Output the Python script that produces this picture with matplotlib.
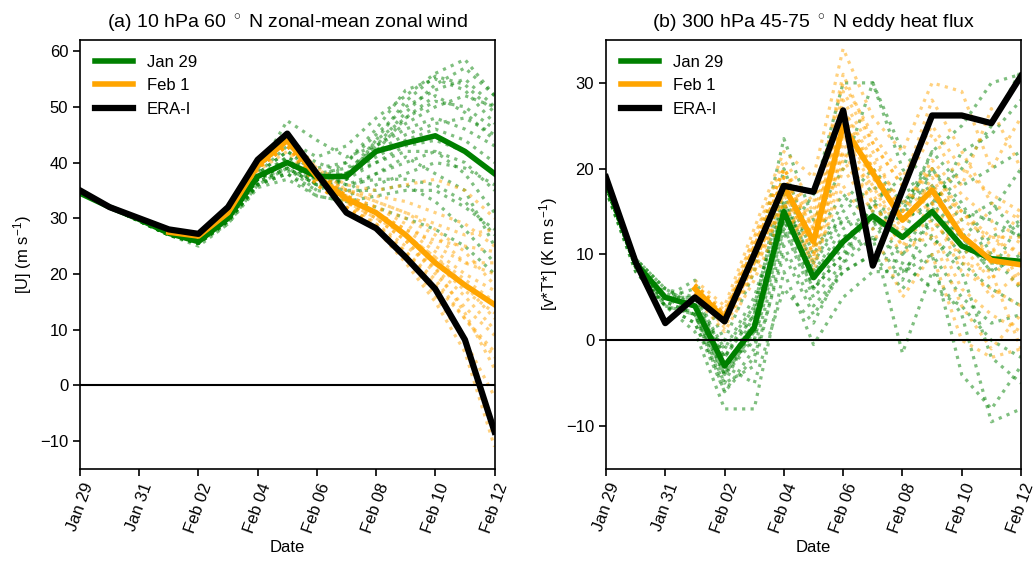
import datetime as dt
import matplotlib
matplotlib.use("Agg")
import matplotlib.pyplot as plt
import matplotlib.dates as mdates

plt.rcParams['font.family'] = ['Liberation Sans', 'DejaVu Sans']
plt.rcParams['mathtext.fontset'] = 'custom'
plt.rcParams['mathtext.rm'] = 'Liberation Sans'
plt.rcParams['mathtext.it'] = 'Liberation Sans:italic'

# daily dates, Jan 29 - Feb 12
dates = [dt.date(2018, 1, 29) + dt.timedelta(days=i) for i in range(15)]
dates_feb1 = dates[3:]

# ---- panel (a): 10 hPa 60N zonal-mean zonal wind ----
u_era = [35, 32, 30, 28, 27.2, 32, 40.5, 45.2, 38, 31, 28.2, 23, 17.3, 8.2, -8.3]
u_jan29_mean = [34.5, 32, 29.8, 27.3, 25.8, 30, 37.5, 40, 37.5, 37.5, 42, 43.5, 44.8, 42, 38]
u_feb1_mean = [27.5, 26.8, 31, 39.5, 44, 37.5, 33.5, 31, 27, 22, 18, 14.5]

u_jan29_members = [
    [34.5, 32, 30, 27.5, 26, 30, 37, 40, 37, 38, 42, 45, 47, 48, 45],
    [34.5, 32, 29.5, 27, 25.5, 29.5, 36, 38, 35, 34, 36, 38, 40, 39, 36],
    [34.5, 32, 30, 27.5, 26.5, 30.5, 38, 42, 39, 40, 45, 50, 53, 55, 50],
    [34.5, 32, 29.5, 27, 25.5, 29, 35.5, 37, 34, 33, 34, 35, 35, 32, 28],
    [34.5, 32, 30, 28, 26.5, 31, 39, 44, 41, 43, 48, 52, 56, 58.5, 52],
    [34.5, 32, 29.5, 27, 25, 29, 36, 39, 36, 37, 40, 43, 44, 42, 38],
    [34.5, 32, 30, 27.5, 26, 30, 37, 41, 38, 36, 38, 40, 42, 40, 35],
    [34.5, 32, 30, 27.5, 26, 30.5, 38.5, 47.5, 44, 41, 43, 47, 50, 52, 50],
    [34.5, 32, 29.5, 27, 25.5, 29.5, 36, 38, 34, 33, 32, 30, 28, 25, 20],
    [34.5, 32, 30, 27.5, 26, 30, 37, 40, 37, 40, 46, 53, 55, 53, 47],
    [34.5, 32, 30, 27.5, 26, 30, 37.5, 41, 38, 38, 41, 44, 46, 44, 40],
    [34.5, 32, 29.5, 27, 25.5, 29.5, 36.5, 39, 36, 35, 35, 36, 33, 28, 22],
    [34.5, 32, 30, 27.5, 26, 30.5, 38, 43, 40, 38, 40, 42, 42, 38, 31],
    [34.5, 32, 30, 27.5, 26, 30, 37, 40, 36, 37, 43, 49, 54, 57, 52],
    [34.5, 32, 30, 27.5, 26, 30, 37, 39, 35, 37, 44, 51, 55.5, 54, 49],
    [34.5, 32, 30, 27.5, 26, 30, 37, 40.5, 37, 36, 37, 37, 36, 33, 27],
    [34.5, 32, 29.5, 27, 25.5, 29.5, 36.5, 39, 36, 38, 43, 46, 48, 46, 43],
    [34.5, 32, 30, 27.5, 26.5, 30.5, 38, 42, 38, 39, 42, 48, 51, 50, 46],
    [34.5, 32, 30, 27.5, 26, 30, 37, 40, 36, 35, 38, 41, 38, 35, 25],
    [34.5, 32, 29.5, 27, 25.5, 29.5, 36, 38.5, 37, 38, 44, 48, 52, 49, 44],
]
u_feb1_members = [
    [27.5, 27, 31, 40, 44, 38, 34, 31, 27, 22, 17, 13],
    [27.5, 26.5, 30.5, 39, 43, 37, 33, 29, 24, 18, 12, 5],
    [27.5, 27, 31.5, 40.5, 45, 39, 36, 35, 36, 37, 35, 30],
    [27.5, 26.5, 30.5, 38.5, 42, 36, 32, 28, 23, 16, 8, -2],
    [27.5, 27, 31, 39.5, 44, 38, 34, 32, 29, 25, 22, 20],
    [27.5, 26.5, 30.5, 39, 43, 37, 33, 30, 26, 20, 14, 9],
    [27.5, 27, 31, 40, 44.5, 38, 33, 28, 22, 15, 6, -11],
    [27.5, 27, 31, 39.5, 44, 38, 35, 34, 33, 31, 29, 25],
    [27.5, 26.5, 31, 39, 43.5, 37, 33, 30, 27, 23, 19, 15],
    [27.5, 27, 31, 40, 44, 38, 34, 31, 28, 26, 25, 24],
    [27.5, 26.5, 30.5, 39, 43, 36, 32, 29, 25, 21, 16, 10],
    [27.5, 27, 31, 40, 44.5, 39, 35, 33, 31, 28, 24, 18],
    [27.5, 27, 31, 40, 44, 38, 34, 31, 28, 24, 20, 17],
    [27.5, 26.5, 30.5, 39, 43, 37, 33, 30, 26, 21, 13, 3],
    [27.5, 27, 31, 39.5, 44, 38, 35, 33, 31, 29, 27, 28],
    [27.5, 26.5, 30.5, 39, 43, 36, 32, 28, 24, 19, 12, 6],
    [27.5, 27, 31, 40, 44.5, 38, 34, 31, 27, 23, 18, 12],
    [27.5, 27, 31, 39.5, 44, 38, 34, 32, 30, 27, 22, 22],
]

# ---- panel (b): 300 hPa 45-75N eddy heat flux ----
vt_era = [19, 9.1, 2, 5, 2.2, 10, 18, 17.3, 26.8, 8.7, 17.5, 26.2, 26.2, 25.3, 30.8]
vt_jan29_mean = [18.5, 9, 5, 4, -3, 1.5, 15, 7.3, 11.5, 14.5, 12, 15, 11, 9.5, 9.2]
vt_feb1_mean = [6, 2.5, 10, 18, 11.5, 25, 19.5, 14, 17.5, 12.2, 9.3, 8.8]

vt_jan29_members = [
    [18.5, 9, 5, 4, -3, 2, 15, 7, 12, 14, 12, 15, 11, 9, 9],
    [18, 9.5, 6, 5, -1, 4, 18, 10, 16, 20, 16, 20, 15, 14, 12],
    [17.5, 8, 4, 2, -6, -2, 10, 3, 8, 10, 6, 10, 5, 2, 3],
    [18, 9, 5, 7, 0, 8, 23.5, 14, 20, 30, 22, 18, 12, 8, 10],
    [18, 8.5, 4, 3, -4, 0, 13, 5, 9, 12, -1.5, 8, 3, -9.5, -8],
    [18.5, 9.5, 6, 4, -2, 3, 16, 9, 14, 16, 14, 16, 20, 25, 31.5],
    [17.5, 8.5, 4, 1, -8, -8, 8, -0.5, 5, 8, 8, 12, 9, 6, 4],
    [18, 9, 5, 3, -5, 2, 14, 6, 10, 12, 10, 14, 10, 12, 14],
    [18, 9, 5, 5, -2, 4, 17, 8, 13, 15, 14, 22, 25, 30, 31],
    [18.5, 9, 4, 3, -4, 1, 14, 12, 17, 14, 8, 10, -4, -8, -3],
    [18, 9, 5.5, 4, -3, 0, 16, 6, 10, 16, 12, 20, 16, 10, 6],
    [18, 8.5, 4.5, 3, -6, -1, 12, 17, 30, 30, 20, 15, 12, 15, 20],
    [18, 9, 5, 4, -4, 3, 20, 11, 14, 13, 16, 18, 14, 16, 12],
    [18.5, 9, 5, 5, -3, -5, 6, 2, 9, 16, 19, 12, 8, -2, -5],
    [18, 9.5, 6, 4, -1, 5, 16, 9, 15, 18, 15, 22, 18, 20, 22],
    [17.5, 8, 4, 2, -5, -3, 11, 4, 8, 10, 9, 6, 4, 0, -2],
    [18, 9, 5, 6, -2, 3, 14, 8, 12, 14, 10, 16, 12, 8, 14],
    [18, 8.5, 4.5, 3, -4, 1, 13, 6, 11, 12, 7, 15, 22, 24, 28],
]
vt_feb1_members = [
    [6, 2.5, 10, 18, 11, 25, 19, 14, 17, 12, 9, 9],
    [6.5, 3.5, 12, 21, 16, 30, 24, 19, 25, 20, 17, 15],
    [5.5, 1.5, 8, 16, 8, 20, 15, 10, 13, 6, 3, 1],
    [7, 4, 13, 22, 19, 34, 26, 22, 30, 29, 20, 26],
    [5, 1, 7, 15, 9, 18, 13, 5, 10, 0, -2, -1],
    [6, 2.5, 10, 19, 13, 27, 21, 16, 20, 14, 12, 10],
    [6, 2, 9, 17, 10, 23, 17, 12, 15, 8, 6, 4],
    [6.5, 3, 11, 20, 14, 29, 23, 18, 24, 18, 27, 20],
    [5.5, 2, 9, 17, 11, 24, 18, 12, 14, 10, 5, 8],
    [6, 3, 11, 19, 12, 26, 20, 15, 18, 15, 12, 12],
    [6, 2.5, 10, 18, 10, 22, 16, 11, 16, 9, 8, -1],
    [6.5, 3, 11, 20, 13, 28, 22, 15, 21, 17, 14, 6],
    [6, 2.5, 10, 18, 12, 25, 20, 14, 18, 12, 10, 9],
    [6.5, 3, 12, 20, 15, 31, 23, 18, 28, 22, 16, 14],
    [5.5, 2, 9, 16, 9, 21, 16, 11, 12, 4, -1, 3],
    [6, 3, 11, 19, 13, 27, 20, 15, 20, 15, 11, 6],
    [6, 2, 9, 17, 11, 24, 19, 14, 16, 11, 7, 12],
    [5.5, 2, 8, 16, 10, 22, 18, 13, 19, 13, 10, 15],
]


def draw_panel(ax, jan_members, feb_members, jan_mean, feb_mean, era, ylim, title, ylabel):
    for m in jan_members:
        ax.plot(dates, m, color='green', ls=':', lw=2.3, alpha=0.5)
    for m in feb_members:
        ax.plot(dates_feb1, m, color='orange', ls=':', lw=2.3, alpha=0.5)
    ax.plot(dates, jan_mean, color='green', lw=4, label='Jan 29')
    ax.plot(dates_feb1, feb_mean, color='orange', lw=4, label='Feb 1')
    ax.plot(dates, era, color='black', lw=4.5, label='ERA-I')
    ax.axhline(0, color='black', lw=1.5)
    ax.set_xlim(dates[0], dates[-1])
    ax.set_ylim(*ylim)
    ax.xaxis.set_major_locator(mdates.DayLocator(interval=2))
    ax.xaxis.set_major_formatter(mdates.DateFormatter('%b %d'))
    ax.tick_params(axis='x', labelrotation=70, labelsize=12)
    ax.tick_params(axis='y', labelsize=12)
    ax.tick_params(direction='out', length=5, width=1.2)
    for s in ax.spines.values():
        s.set_linewidth(1.2)
    ax.set_title(title, fontsize=14, pad=8)
    ax.set_xlabel('Date', fontsize=12)
    ax.set_ylabel(ylabel, fontsize=12)
    ax.legend(loc='upper left', frameon=False, fontsize=12, handlelength=2.3)


fig = plt.figure(figsize=(10.35, 5.63), dpi=100)
ax1 = fig.add_axes([0.0773, 0.167, 0.4005, 0.762])
ax2 = fig.add_axes([0.5855, 0.167, 0.401, 0.762])

draw_panel(ax1, u_jan29_members, u_feb1_members, u_jan29_mean, u_feb1_mean, u_era,
           (-15, 62), '(a) 10 hPa 60 $^\\circ$ N zonal-mean zonal wind', '[U] (m s$^{-1}$)')
draw_panel(ax2, vt_jan29_members, vt_feb1_members, vt_jan29_mean, vt_feb1_mean, vt_era,
           (-15, 35), '(b) 300 hPa 45-75 $^\\circ$ N eddy heat flux', '[v*T*] (K m s$^{-1}$)')

fig.savefig('out.png', dpi=100)
